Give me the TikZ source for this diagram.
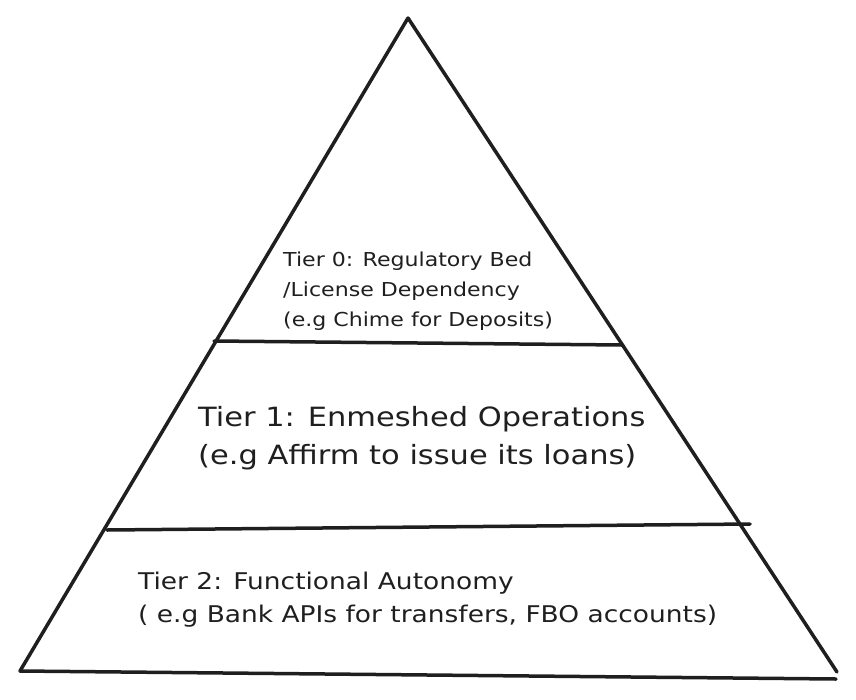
\documentclass[tikz,border=0pt]{standalone}
\usepackage{fontspec}
\setmainfont{DejaVu Sans}
\newfontfamily\sketchfont[FakeStretch=1.15]{DejaVu Sans}

\tikzstyle{edge} = [line width=3.5pt, line cap=round, line join=round, draw=black!88]
\tikzstyle{tier} = [anchor=north west, inner sep=0pt, align=left, text=black!88]

\begin{document}
\begin{tikzpicture}[x=1pt,y=-1pt]
	\useasboundingbox (0,0) rectangle (856,699);
	% corners of the pyramid
	\coordinate (apex) at (408,18);
	\coordinate (baseL) at (20,671);
	\coordinate (baseR) at (836,679);
	\coordinate (sideR) at (837,672);
	% the two dividing lines
	\coordinate (zeroL) at (214,341);
	\coordinate (zeroR) at (622,345);
	\coordinate (oneL) at (107,530);
	\coordinate (oneR) at (750,524);
	\draw [edge] (baseL) -- (apex) -- (sideR);
	\draw [edge] (baseL) -- (baseR);
	\draw [edge] (zeroL) -- (zeroR);
	\draw [edge] (oneL) -- (oneR);
	% labels
	\node [tier, font=\sketchfont\fontsize{19.2}{30}\selectfont] (tierzero) at (283,252)
		{Tier 0: Regulatory Bed\\/License Dependency\\(e.g Chime for Deposits)};
	\node [tier, font=\sketchfont\fontsize{26.5}{38}\selectfont] (tierone) at (198,406)
		{Tier 1: Enmeshed Operations\\(e.g Affirm to issue its loans)};
	\node [tier, font=\sketchfont\fontsize{23}{33}\selectfont] (tiertwo) at (138,572)
		{Tier 2: Functional Autonomy\\( e.g Bank APIs for transfers, FBO accounts)};
\end{tikzpicture}
\end{document}
